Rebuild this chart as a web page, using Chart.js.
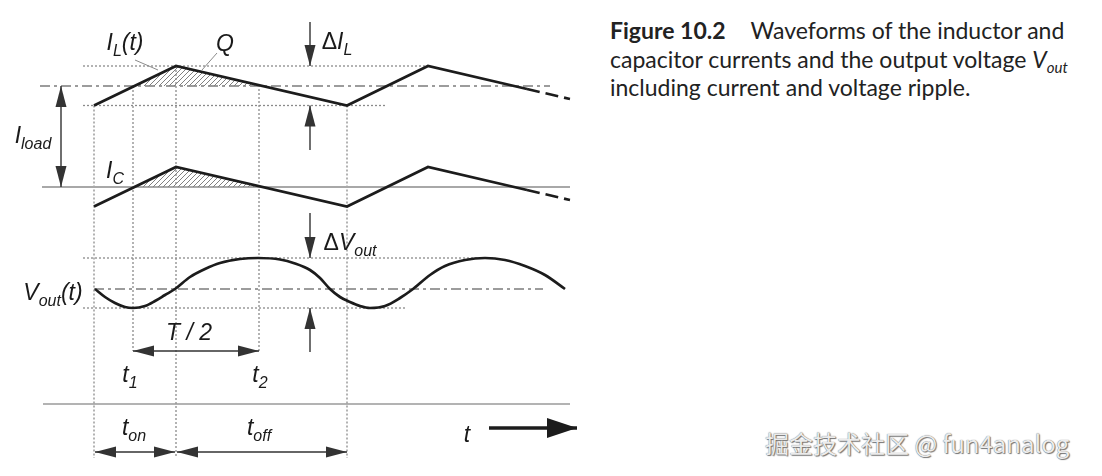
<!DOCTYPE html>
<html>
<head>
<meta charset="utf-8">
<script src="https://cdn.jsdelivr.net/npm/chart.js@4/dist/chart.umd.min.js"></script>
<style>
  html, body { margin: 0; padding: 0; background: #fff; }
  #page { position: relative; width: 1102px; height: 476px; overflow: hidden; }
  #wave { position: absolute; left: 0; top: 0; }
  .caption {
    position: absolute; left: 610px; top: 16px; white-space: nowrap;
    font-family: Lato, "Noto Sans", sans-serif; font-size: 23px; line-height: 28.5px; color: #222;
  }
  .caption b { font-weight: 700; margin-right: 25px; }
  .caption sub { font-size: 15px; vertical-align: -5px; line-height: 0; }
  .mark {
    position: absolute; left: 765px; top: 425px; white-space: nowrap;
    font-family: "Noto Sans CJK SC", sans-serif; font-size: 24px; color: #ececec;
    text-shadow: 0 0 1px #555, 1px 1px 1px #777;
  }
</style>
</head>
<body>
<div id="page">
  <canvas id="wave" width="600" height="476"></canvas>
  <div class="caption"><b>Figure 10.2</b>Waveforms of the inductor and<br>capacitor currents and the output voltage <i>V<sub>out</sub></i><br>including current and voltage ripple.</div>
  <div class="mark">掘金技术社区 @ fun4analog</div>
</div>
<script>
// time in arbitrary units, t = 0 at the start of the first on-phase
const tOn = 82;
const tOff = 253;
const t1 = 39;
const t2 = 165;

// triangular ripple (same shape for I_L around I_load and for I_C around zero)
const rampTimes = [0, 82, 253, 334, 433];
const rampValues = [-19.5, 20, -19.5, 20, -3];
const tailTimes = [433, 476];
const tailValues = [-3, -13];

// charge Q: part of the ripple above the mean
const hatchTimes = [39, 82, 165];
const hatchValues = [0, 20, 0.8];

// output voltage ripple around V_out
const voutTimes = [1, 11, 21, 31, 39, 51, 61, 71, 81, 96, 111, 126, 146, 164, 186, 201, 216, 226, 236, 246,
  256, 266, 276, 291, 306, 319, 336, 351, 371, 391, 411, 431, 451, 471];
const voutValues = [0, -8, -14, -18, -19, -17, -12, -6, 0, 12, 20, 26, 30, 31, 29.5, 25.5, 19, 11, 0, -8,
  -13, -17, -19, -17, -9, 0, 14, 23, 29, 31, 29, 23, 14, 0];

// vertical layout of the three traces (y axis runs downwards)
const IL_BASE = 86;
const IC_BASE = 187;
const V_BASE = 289;
const AXIS_Y = 404;

const INK = '#1c1c1c';
const GUIDE = '#8a8a8a';
const ARROW = '#333333';

function pts(xs, ys) {
  return xs.map((x, i) => ({ x: x, y: ys[i] }));
}

function seg(xs, ys, style) {
  return Object.assign({
    data: pts(xs, ys), showLine: true, pointRadius: 0, pointHoverRadius: 0,
    fill: false, clip: false, borderWidth: 1, borderColor: GUIDE, order: 10
  }, style);
}

function hatchPattern() {
  const c = document.createElement('canvas');
  c.width = 5; c.height = 5;
  const g = c.getContext('2d');
  g.strokeStyle = '#808080';
  g.lineWidth = 1;
  g.beginPath();
  g.moveTo(-1, 6); g.lineTo(6, -1);
  g.stroke();
  return g.createPattern(c, 'repeat');
}

const ilPeak = IL_BASE - Math.max(...rampValues);
const ilValley = IL_BASE - Math.min(...rampValues);
const vTop = V_BASE - Math.max(...voutValues);
const vBottom = V_BASE - Math.min(...voutValues);

const wave = { borderColor: INK, borderWidth: 2.7, order: 0 };
const tail = { borderColor: INK, borderWidth: 2.7, borderDash: [13, 6], order: 0 };
const dotted = { borderColor: GUIDE, borderWidth: 1.3, borderDash: [2, 2] };
const dashDot = { borderColor: '#9c9c9c', borderWidth: 2, borderDash: [10, 4, 3, 4] };
const arrow = { borderColor: ARROW, borderWidth: 1.4, order: 1, headSize: [21, 5.5] };
const hatch = { borderWidth: 0, borderColor: 'rgba(0,0,0,0)', backgroundColor: hatchPattern(), order: 5 };

const datasets = [
  // waveforms
  seg(rampTimes, rampValues.map(v => IL_BASE - v), wave),
  seg(tailTimes, tailValues.map(v => IL_BASE - v), tail),
  seg(rampTimes, rampValues.map(v => IC_BASE - v), wave),
  seg(tailTimes, tailValues.map(v => IC_BASE - v), tail),
  seg(voutTimes, voutValues.map(v => V_BASE - v), Object.assign({ cubicInterpolationMode: 'monotone' }, wave)),
  // hatched charge Q
  seg(hatchTimes, hatchValues.map(v => IL_BASE - v), Object.assign({ fill: { value: IL_BASE } }, hatch)),
  seg(hatchTimes, hatchValues.map(v => IC_BASE - v), Object.assign({ fill: { value: IC_BASE } }, hatch)),
  // horizontal guides
  seg([-11, 334], [ilPeak, ilPeak], dotted),
  seg([-11, 291], [ilValley, ilValley], dotted),
  seg([-54, 456], [IL_BASE, IL_BASE], dashDot),
  seg([-52, 476], [IC_BASE, IC_BASE], { borderColor: '#a8a8a8', borderWidth: 2 }),
  seg([-11, 400], [vTop, vTop], dotted),
  seg([0, 449], [V_BASE, V_BASE], dashDot),
  seg([-11, 313], [vBottom, vBottom], dotted),
  seg([-51, 476], [AXIS_Y, AXIS_Y], { borderColor: '#9a9a9a', borderWidth: 1.6 }),
  // vertical guides
  seg([0, 0], [ilValley, 458], dotted),
  seg([t1, t1], [IL_BASE, 351], dotted),
  seg([tOn, tOn], [ilPeak, 458], dotted),
  seg([t2, t2], [IL_BASE - 1, 351], dotted),
  seg([tOff, tOff], [ilValley, 458], dotted),
  // leader lines
  seg([41, 64], [60, 70], { borderColor: '#8a8a8a', borderWidth: 1 }),
  seg([123, 108], [53, 70], { borderColor: '#8a8a8a', borderWidth: 1 }),
  // dimension arrows
  seg([-33, -33], [IL_BASE, IC_BASE], Object.assign({ heads: ['start', 'end'], headSize: [22, 6.5] }, arrow)),
  seg([216, 216], [22, ilPeak], Object.assign({ heads: ['end'], headSize: [22, 6.5] }, arrow)),
  seg([216, 216], [150, ilValley], Object.assign({ heads: ['end'], headSize: [22, 6.5] }, arrow)),
  seg([216, 216], [213, vTop], Object.assign({ heads: ['end'], headSize: [22, 6.5] }, arrow)),
  seg([216, 216], [352, vBottom], Object.assign({ heads: ['end'], headSize: [22, 6.5] }, arrow)),
  seg([t1, t2], [351, 351], Object.assign({ heads: ['start', 'end'] }, arrow)),
  seg([1, tOn - 1], [452, 452], Object.assign({ heads: ['start', 'end'] }, arrow)),
  seg([tOn + 1, tOff], [452, 452], Object.assign({ heads: ['start', 'end'] }, arrow)),
  seg([395, 483], [428, 428], { borderColor: INK, borderWidth: 3.5, order: 1, heads: ['end'], headSize: [30, 10] })
];

// text labels: position in data units (t, y), runs of [text, kind]
const labels = [
  { t: 31, y: 50, runs: [['I'], ['L', 'sub'], ['(t)']] },
  { t: 131, y: 51, runs: [['Q']] },
  { t: 243, y: 49, runs: [['\u0394', 'up'], ['I'], ['L', 'sub']] },
  { t: -61, y: 143, runs: [['I'], ['load', 'sub']] },
  { t: 21, y: 178, runs: [['I'], ['C', 'sub']] },
  { t: 256, y: 250, runs: [['\u0394', 'up'], ['V'], ['out', 'sub']] },
  { t: -41, y: 300, runs: [['V'], ['out', 'sub'], ['(t)']] },
  { t: 95, y: 340, runs: [['T / 2']] },
  { t: 36, y: 382, runs: [['t'], ['1', 'sub']] },
  { t: 166, y: 382, runs: [['t'], ['2', 'sub']] },
  { t: 40, y: 435, runs: [['t'], ['on', 'sub']] },
  { t: 165, y: 435, runs: [['t'], ['off', 'sub']] },
  { t: 373, y: 442, runs: [['t']] }
];

const FONT_MAIN = 'italic 23px "Liberation Sans", Arial, sans-serif';
const FONT_UP = '23px "Liberation Sans", Arial, sans-serif';
const FONT_SUB = 'italic 16px "Liberation Sans", Arial, sans-serif';

const arrowHeads = {
  id: 'arrowHeads',
  afterDatasetsDraw(chart) {
    const ctx = chart.ctx;
    chart.data.datasets.forEach((ds, i) => {
      if (!ds.heads) return;
      const p = chart.getDatasetMeta(i).data;
      const n = p.length;
      const head = (tip, from) => {
        const ang = Math.atan2(tip.y - from.y, tip.x - from.x);
        ctx.save();
        ctx.translate(tip.x, tip.y);
        ctx.rotate(ang);
        ctx.beginPath();
        ctx.moveTo(0, 0);
        ctx.lineTo(-ds.headSize[0], -ds.headSize[1]);
        ctx.lineTo(-ds.headSize[0], ds.headSize[1]);
        ctx.closePath();
        ctx.fillStyle = ds.borderColor;
        ctx.fill();
        ctx.restore();
      };
      if (ds.heads.includes('start')) head(p[0], p[1]);
      if (ds.heads.includes('end')) head(p[n - 1], p[n - 2]);
    });
  }
};

const textLabels = {
  id: 'textLabels',
  afterDatasetsDraw(chart) {
    const ctx = chart.ctx;
    const xs = chart.scales.x, ys = chart.scales.y;
    ctx.save();
    ctx.fillStyle = '#1a1a1a';
    ctx.textBaseline = 'alphabetic';
    ctx.textAlign = 'left';
    const fontOf = k => k === 'sub' ? FONT_SUB : (k === 'up' ? FONT_UP : FONT_MAIN);
    labels.forEach(lb => {
      let w = 0;
      lb.runs.forEach(r => { ctx.font = fontOf(r[1]); w += ctx.measureText(r[0]).width; });
      let x = xs.getPixelForValue(lb.t) - w / 2;
      const y = ys.getPixelForValue(lb.y);
      lb.runs.forEach(r => {
        ctx.font = fontOf(r[1]);
        ctx.fillText(r[0], x, r[1] === 'sub' ? y + 6 : y);
        x += ctx.measureText(r[0]).width;
      });
    });
    ctx.restore();
  }
};

new Chart(document.getElementById('wave'), {
  type: 'scatter',
  data: { datasets: datasets },
  options: {
    responsive: false,
    devicePixelRatio: 1,
    animation: false,
    layout: { padding: 0 },
    scales: {
      x: { type: 'linear', min: -94, max: 506, display: false },
      y: { type: 'linear', min: 0, max: 476, reverse: true, display: false }
    },
    plugins: { legend: { display: false }, tooltip: { enabled: false } },
    events: []
  },
  plugins: [arrowHeads, textLabels]
});
</script>
</body>
</html>
